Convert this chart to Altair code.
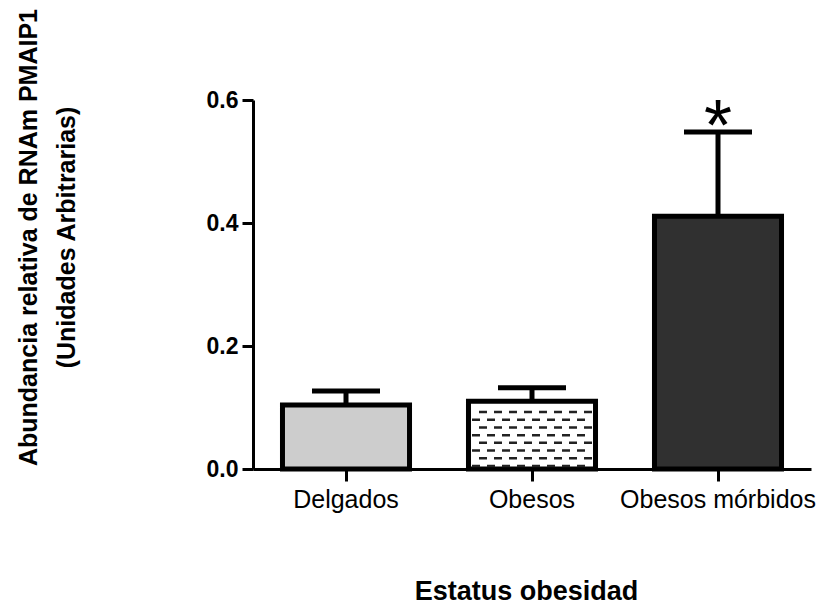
import altair as alt
import pandas as pd

# ---- data ----
categories = ["Delgados", "Obesos", "Obesos mórbidos"]
means = [0.104, 0.110, 0.411]
sem_upper = [0.127, 0.132, 0.548]
fills = ["#cdcdcd", "#ffffff", "#303030"]
significance = ["", "", "*"]
# horizontal dash rows of the Obesos bar hatch (style only)
dash_rows_a = [0.005, 0.030, 0.055, 0.080]
dash_rows_b = [0.0175, 0.0425, 0.0675, 0.0925]

FONT = "Liberation Sans"

df = pd.DataFrame({
    "grupo": categories,
    "media": means,
    "sup": sem_upper,
    "fill": fills,
    "sig": significance,
})
dash_a = pd.DataFrame({"grupo": ["Obesos"] * len(dash_rows_a), "lvl": dash_rows_a})
dash_b = pd.DataFrame({"grupo": ["Obesos"] * len(dash_rows_b), "lvl": dash_rows_b})

x_enc = alt.X(
    "grupo:N",
    sort=categories,
    scale=alt.Scale(paddingInner=0.317, paddingOuter=0.1585),
    axis=alt.Axis(
        title="Estatus obesidad",
        labelAngle=0,
        labelAlign="center",
        labelLimit=0,
        labelFont=FONT,
        labelFontSize=25,
        labelColor="black",
        labelPadding=18,
        tickSize=12,
        tickWidth=3,
        tickColor="black",
        domainWidth=3,
        domainColor="black",
        titleFont=FONT,
        titleFontSize=27,
        titleFontWeight="bold",
        titleColor="black",
        titleX=273,
        titleY=130,
        titleBaseline="alphabetic",
        titleAnchor="start",
        titleAlign="center",
    ),
)
y_scale = alt.Scale(domain=[0, 0.6], nice=False, zero=True)
y_enc = alt.Y(
    "media:Q",
    scale=y_scale,
    axis=alt.Axis(
        values=[0.0, 0.2, 0.4, 0.6],
        format=".1f",
        grid=False,
        labelFont=FONT,
        labelFontSize=23,
        labelFontWeight="bold",
        labelColor="black",
        labelPadding=4,
        tickSize=11,
        tickWidth=3,
        tickColor="black",
        domainWidth=3,
        domainColor="black",
        title=["Abundancia relativa de RNAm PMAIP1", "(Unidades Arbitrarias)"],
        titleFont=FONT,
        titleFontSize=25,
        titleFontWeight="bold",
        titleColor="black",
        titleAngle=-90,
        titleAlign="center",
        titleBaseline="middle",
        titleLineHeight=38,
        titleX=-225,
        titleY=137,
        titleAnchor="start",
    ),
)

base = alt.Chart(df)

err_stem = base.mark_rule(color="black", strokeWidth=5, opacity=1).encode(
    x=alt.X("grupo:N", sort=categories),
    y=alt.Y("media:Q", scale=y_scale),
    y2="sup:Q",
)
err_cap = base.mark_tick(
    color="black", size=68, thickness=5, orient="horizontal", opacity=1
).encode(
    x=alt.X("grupo:N", sort=categories),
    y=alt.Y("sup:Q", scale=y_scale),
)
bars = base.mark_bar(stroke="black", strokeWidth=5, strokeJoin="miter", opacity=1).encode(
    x=x_enc,
    y=y_enc,
    fill=alt.Fill("fill:N", scale=None),
)
hatch_a = alt.Chart(dash_a).mark_rule(
    color="#222222", strokeWidth=2.5, strokeDash=[8, 7], xOffset=-60, x2Offset=60
).encode(
    x=alt.X("grupo:N", sort=categories),
    x2="grupo:N",
    y=alt.Y("lvl:Q", scale=y_scale),
)
hatch_b = alt.Chart(dash_b).mark_rule(
    color="#222222", strokeWidth=2.5, strokeDash=[8, 7], strokeDashOffset=8,
    xOffset=-60, x2Offset=60
).encode(
    x=alt.X("grupo:N", sort=categories),
    x2="grupo:N",
    y=alt.Y("lvl:Q", scale=y_scale),
)
star = base.mark_text(
    font=FONT, fontSize=72, color="black", align="center",
    baseline="alphabetic", dy=18,
).encode(
    x=alt.X("grupo:N", sort=categories),
    y=alt.Y("sup:Q", scale=y_scale),
    text="sig:N",
)

chart = alt.layer(err_stem, err_cap, bars, hatch_a, hatch_b, star).properties(
    width=558,
    height=369,
    autosize=alt.AutoSizeParams(type="none"),
    padding={"left": 245, "top": 92, "right": 7, "bottom": 137},
    background="white",
).configure_view(stroke=None)

chart.save("out.html", embed_options={"renderer": "svg", "actions": False})
